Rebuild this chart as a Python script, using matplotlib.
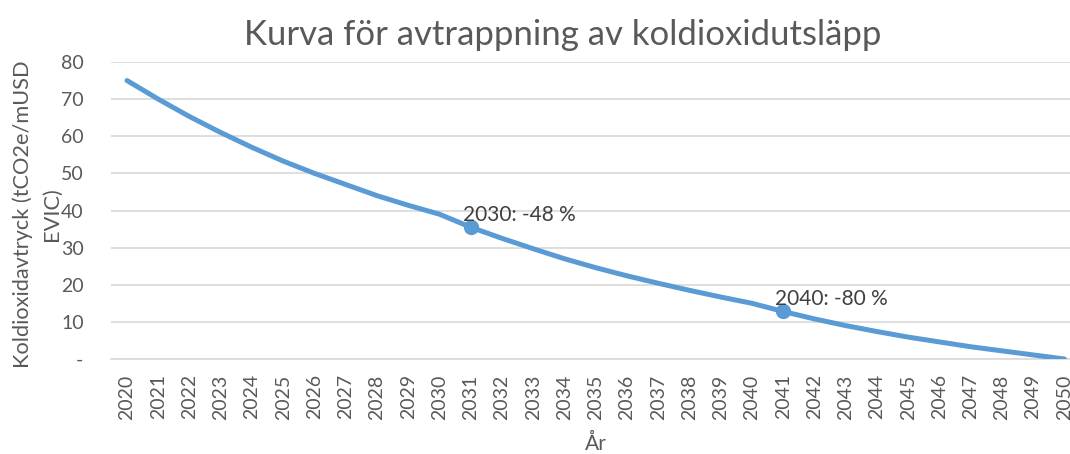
import matplotlib
matplotlib.use('Agg')
import matplotlib.pyplot as plt

# Data
years = list(range(2020, 2051))
values = [75.0, 70.0, 65.3, 61.0, 57.0, 53.3, 50.0, 47.0, 44.0, 41.4,
          39.0, 35.5, 32.5, 29.7, 27.0, 24.6, 22.4, 20.4, 18.5, 16.7,
          15.0, 12.8, 10.8, 9.0, 7.4, 5.9, 4.6, 3.3, 2.2, 1.1, 0.0]
marker_years = [2031, 2041]
marker_labels = ['2030: -48 %', '2040: -80 %']
y_ticks = [0, 10, 20, 30, 40, 50, 60, 70, 80]
y_tick_labels = ['-', '10', '20', '30', '40', '50', '60', '70', '80']

text_col = '#595959'
line_col = '#5B9BD5'
grid_col = '#D9D9D9'

plt.rcParams['font.family'] = ['Lato', 'DejaVu Sans']

fig = plt.figure(figsize=(10.7, 4.54), dpi=100)
ax = fig.add_axes([111.4 / 1070, 95 / 454, (1080 - 111.4) / 1070, 297 / 454])

ax.plot(years, values, color=line_col, linewidth=3.6, solid_capstyle='round', zorder=3)

# highlighted points with data labels
for yr, lab in zip(marker_years, marker_labels):
    v = values[years.index(yr)]
    ax.plot([yr], [v], 'o', color=line_col, markersize=10, zorder=4)
    ax.annotate(lab, (yr, v), xytext=(-8, 12), textcoords='offset pixels',
                ha='left', va='center', fontsize=15, color='#404040', zorder=5)

ax.set_xlim(2019.5, 2050.5)
ax.set_ylim(0, 80)
ax.set_yticks(y_ticks)
ax.set_yticklabels(y_tick_labels)
ax.set_xticks(years)
ax.set_xticklabels([str(y) for y in years], rotation=90)

ax.grid(axis='y', color=grid_col, linewidth=1.2)
ax.set_axisbelow(True)
for s in ['top', 'right', 'left']:
    ax.spines[s].set_visible(False)
ax.spines['bottom'].set_color(grid_col)
ax.spines['bottom'].set_linewidth(1.2)
ax.tick_params(axis='both', length=0, colors=text_col, labelsize=14)
ax.tick_params(axis='x', pad=11)
ax.tick_params(axis='y', pad=20)

ax.set_xlabel('År', fontsize=15, color=text_col, labelpad=10)
fig.text(37 / 1070, (454 - 214) / 454, 'Koldioxidavtryck (tCO2e/mUSD\nEVIC)',
         rotation=90, ha='center', va='center', fontsize=15.7, color=text_col,
         multialignment='center', linespacing=1.55)
fig.text(563 / 1070, (454 - 35) / 454, 'Kurva för avtrappning av koldioxidutsläpp',
         ha='center', va='center', fontsize=25, color=text_col)

fig.savefig('out.png', dpi=100)
